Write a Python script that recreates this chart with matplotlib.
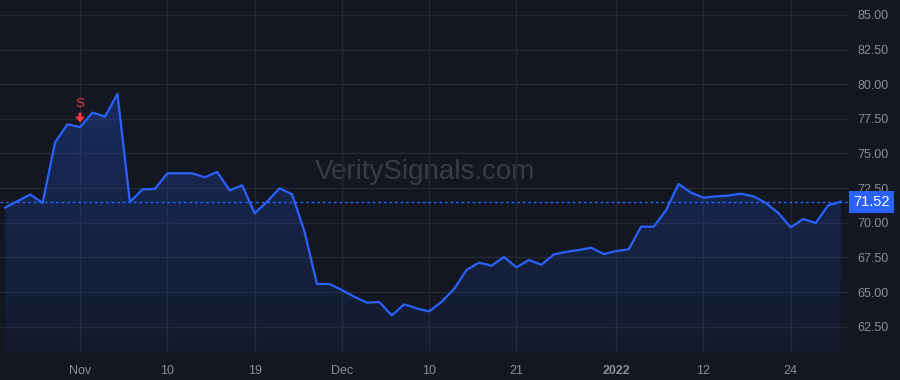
import numpy as np
import pandas as pd
import matplotlib
matplotlib.use("Agg")
import matplotlib.pyplot as plt

plt.rcParams['font.family'] = ['Liberation Sans', 'DejaVu Sans']

# trading days shown in the chart
holidays = ["2021-11-25", "2021-12-24", "2022-01-17"]
dates = pd.bdate_range("2021-10-22", "2022-01-28", freq="C", holidays=holidays)

close = [71.09, 71.57, 72.03, 71.43, 75.81, 77.11, 76.91, 77.95, 77.66, 79.30,
         71.48, 72.41, 72.44, 73.57, 73.57, 73.57, 73.28, 73.66, 72.34, 72.70,
         70.68, 71.52, 72.49, 72.05, 69.36, 65.58, 65.58, 65.14, 64.66, 64.23,
         64.28, 63.31, 64.11, 63.82, 63.60, 64.30, 65.22, 66.59, 67.12, 66.90,
         67.53, 66.78, 67.31, 66.97, 67.71, 67.90, 68.03, 68.20, 67.74, 67.96,
         68.08, 69.72, 69.71, 70.90, 72.80, 72.17, 71.81, 71.91, 71.96, 72.10,
         71.91, 71.43, 70.70, 69.67, 70.27, 69.98, 71.26, 71.52]

tick_dates = ["2021-11-01", "2021-11-10", "2021-11-19", "2021-12-01", "2021-12-10",
              "2021-12-21", "2022-01-03", "2022-01-12", "2022-01-24"]
tick_labels = ["Nov", "10", "19", "Dec", "10", "21", "2022", "12", "24"]
y_ticks = [62.5, 65.0, 67.5, 70.0, 72.5, 75.0, 77.5, 80.0, 82.5, 85.0]

signal_date = "2021-11-01"
signal_label = "S"
last_price = close[-1]

bg = "#131722"
grid_c = "#242833"
text_c = "#8b8e97"
line_c = "#2962ff"
sig_c = "#f23645"

x = np.arange(len(dates))
y = np.array(close)

fig = plt.figure(figsize=(9, 3.8), dpi=100, facecolor=bg)
ax = fig.add_axes([0, 28 / 380, 848 / 900, 352 / 380])
ax.set_facecolor(bg)

ax.set_xlim(-0.42, 67.59)
ax.set_ylim(60.67, 86.08)

# gradient fill under the line
poly = ax.fill_between(x, y, 60.67, color="none")
grad = np.linspace(0.05, 0.28, 256).reshape(-1, 1)
rgba = np.zeros((256, 1, 4))
rgba[..., 0], rgba[..., 1], rgba[..., 2] = 0.16, 0.38, 1.0
rgba[..., 3] = grad
img = ax.imshow(rgba, aspect="auto", origin="lower",
                extent=[x[0], x[-1], 60.67, y.max()], zorder=1)
img.set_clip_path(poly.get_paths()[0], transform=ax.transData)

ax.plot(x, y, color=line_c, lw=1.6, zorder=3)
ax.axhline(last_price, color=line_c, lw=1, ls=(0, (2, 2)), zorder=2)

# ticks and grid
tick_pos = [dates.get_loc(pd.Timestamp(d)) for d in tick_dates]
ax.set_xticks(tick_pos)
ax.set_xticklabels(tick_labels)
for lbl in ax.get_xticklabels():
    if lbl.get_text() == "2022":
        lbl.set_fontweight("bold")
ax.yaxis.tick_right()
ax.set_yticks(y_ticks)
ax.set_yticklabels([f"{v:.2f}" for v in y_ticks])
ax.tick_params(axis="both", length=0, colors=text_c, labelsize=9)
ax.tick_params(axis="y", pad=7)
ax.tick_params(axis="x", pad=9)
ax.grid(True, color=grid_c, lw=1)
ax.set_axisbelow(True)
for s in ax.spines.values():
    s.set_visible(False)

# watermark
ax.text(0.501, 0.511, "VeritySignals.com", transform=ax.transAxes,
        ha="center", va="center", fontsize=20, color="#393c48", zorder=0)

# signal marker
si = dates.get_loc(pd.Timestamp(signal_date))
ax.annotate("", xy=(si, close[si] + 0.31), xytext=(si, close[si] + 1.04),
            arrowprops=dict(arrowstyle="simple,head_width=0.7,head_length=0.45,tail_width=0.22",
                            color=sig_c, lw=0, shrinkA=0, shrinkB=0), zorder=4)
ax.text(si, close[si] + 1.68, signal_label, color=sig_c, ha="center",
        va="center", fontsize=9.5, zorder=4)

# last price label
ax.text(1.0 + 5 / 848, last_price, f"{last_price:.2f}",
        transform=ax.get_yaxis_transform(), ha="left", va="center",
        fontsize=10.5, color="white", zorder=5,
        bbox=dict(boxstyle="square,pad=0.28", fc=line_c, ec="none"))

fig.savefig("out.png", dpi=100, facecolor=bg)
